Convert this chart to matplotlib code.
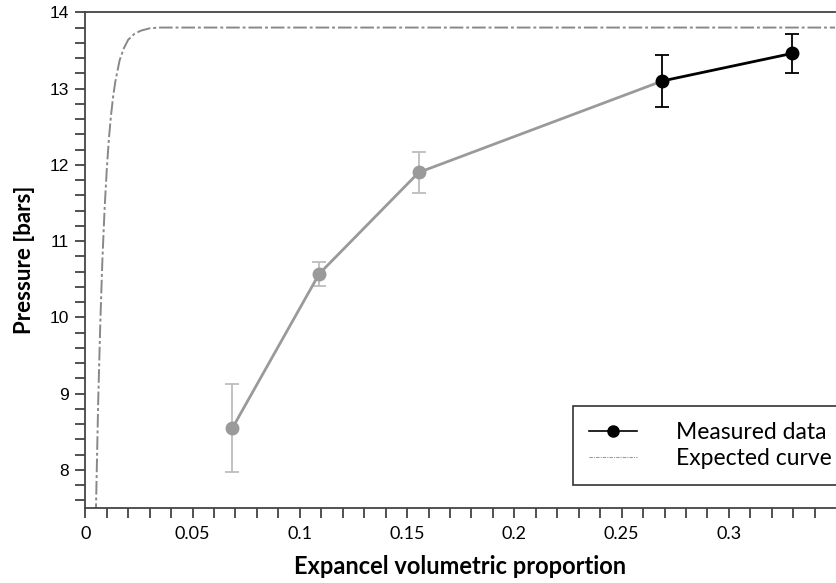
import numpy as np
import matplotlib
matplotlib.use("Agg")
import matplotlib.pyplot as plt
from matplotlib.ticker import MultipleLocator, FuncFormatter

# measured points
x_meas = [0.0686, 0.109, 0.1554, 0.269, 0.3293]
p_meas = [8.55, 10.57, 11.90, 13.10, 13.46]
p_err = [0.58, 0.155, 0.27, 0.345, 0.25]

# expected curve, sampled by eye
x_exp = [0.004, 0.005, 0.006, 0.007, 0.008, 0.009, 0.010, 0.011, 0.012, 0.013,
         0.014, 0.016, 0.018, 0.020, 0.023, 0.026, 0.030, 0.035, 0.10, 0.20, 0.36]
p_exp = [5.78, 7.51, 8.87, 9.93, 10.77, 11.42, 11.93, 12.34, 12.65, 12.90,
         13.09, 13.37, 13.53, 13.64, 13.72, 13.76, 13.79, 13.80, 13.80, 13.80, 13.80]

plt.rcParams['font.family'] = ['Lato', 'DejaVu Sans']

fig = plt.figure(figsize=(8.36, 5.83), dpi=100)
ax = fig.add_axes([0.102, 0.1286, 0.897, 0.8503])

grey = '#9a9a9a'
n_grey = 3

ax.plot(x_exp, p_exp, color='#888888', ls=(0, (7, 1.5, 1.5, 1.5)), lw=1.4, zorder=2)

ax.errorbar(x_meas[:n_grey], p_meas[:n_grey], yerr=p_err[:n_grey], fmt='none',
            ecolor='#bdbdbd', elinewidth=1.3, capsize=5, capthick=1.3, zorder=3)
ax.plot(x_meas[:n_grey + 1], p_meas[:n_grey + 1], color=grey, lw=2, zorder=4)
ax.plot(x_meas[:n_grey], p_meas[:n_grey], 'o', color=grey, ms=9, zorder=5)

ax.errorbar(x_meas[n_grey:], p_meas[n_grey:], yerr=p_err[n_grey:], fmt='none',
            ecolor='black', elinewidth=1.3, capsize=5, capthick=1.3, zorder=6)
ax.plot(x_meas[n_grey:], p_meas[n_grey:], '-o', color='black', lw=2, ms=9, zorder=7)

ax.set_xlim(0, 0.3495)
ax.set_ylim(7.5, 14)

ax.xaxis.set_major_locator(MultipleLocator(0.05))
ax.xaxis.set_minor_locator(MultipleLocator(0.01))
ax.yaxis.set_major_locator(MultipleLocator(1))
ax.yaxis.set_minor_locator(MultipleLocator(0.2))
ax.xaxis.set_major_formatter(FuncFormatter(lambda v, pos: '%g' % round(v, 3)))

ax.tick_params(which='both', direction='out', length=7, width=1.2, color='#333333')
ax.tick_params(axis='x', labelsize=13, pad=6)
ax.tick_params(axis='y', labelsize=12.5, pad=5)
for lab in ax.get_yticklabels():
    lab.set_family('Liberation Sans')

for s in ['left', 'bottom', 'top']:
    ax.spines[s].set_color('#444444')
    ax.spines[s].set_linewidth(1.3)
ax.spines['right'].set_visible(False)

ax.set_xlabel('Expancel volumetric proportion', fontsize=17, fontweight='bold', labelpad=9)
ax.set_ylabel('Pressure [bars]', fontsize=16, fontweight='bold', labelpad=10)

h1, = ax.plot([], [], '-o', color='black', lw=1.2, ms=8)
h2, = ax.plot([], [], color='#999999', ls=(0, (3, 1, 1, 1)), lw=0.8)
leg = ax.legend([h1, h2], ['Measured data', 'Expected curve'], loc='upper left',
                bbox_to_anchor=(0.650, 0.206), fontsize=16.5, frameon=True,
                fancybox=False, edgecolor='black', handlelength=2.1,
                handletextpad=1.7, borderpad=0.7, labelspacing=0.2,
                borderaxespad=0)
leg.get_frame().set_linewidth(1.2)
leg.set_zorder(10)

fig.savefig('out.png', dpi=100)
